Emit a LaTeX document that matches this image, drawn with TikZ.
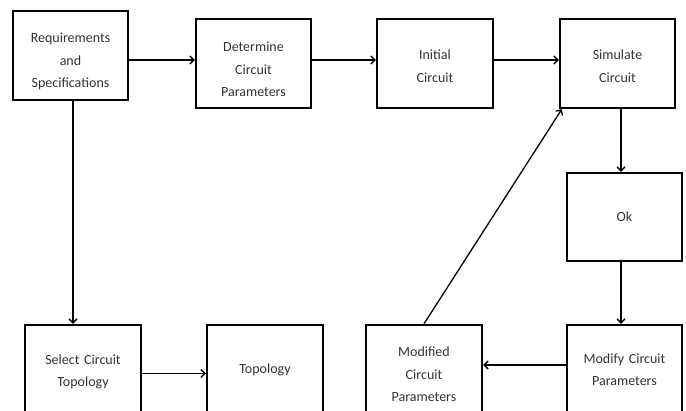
\documentclass[tikz,border=0pt]{standalone}
\usepackage{fontspec}
\setmainfont{Carlito}
\usepackage{xcolor}
\usepackage{tikz}
\usetikzlibrary{arrows.meta}
\tikzstyle{stagebox} = [draw=black, line width=2.4pt, rectangle,
minimum width=115pt, minimum height=89pt, inner sep=0pt,
text width=112pt, align=center, text=black!80,
font=\fontsize{14}{22.5}\selectfont]
\tikzstyle{flow} = [line width=1.3pt, -{Straight Barb[length=4pt,width=8pt]}]
\tikzset{drop/.style={execute at begin node={\rule{0pt}{#1}}}}

\begin{document}
\begin{tikzpicture}[x=1pt, y=-1pt]
        \useasboundingbox (0,0) rectangle (686,410);
        \clip (0,0) rectangle (686,410);
        % top row
        \node [stagebox, drop=22pt] (req) at (70.5,55.5) {Requirements\\and\\Specifications};
        \node [stagebox, drop=22pt] (det) at (253.5,63.5) {Determine\\Circuit\\Parameters};
        \node [stagebox, minimum width=116pt, drop=15pt] (init) at (435,63.5) {Initial\\Circuit};
        \node [stagebox, drop=15pt] (sim) at (617.5,63.5) {Simulate\\Circuit};
        \node [stagebox, minimum height=88pt] (ok) at (624.5,217) {Ok};
        % bottom row
        \node [stagebox, minimum width=116pt, drop=14pt] (select) at (83,369.5) {Select Circuit\\Topology};
        \node [stagebox, minimum width=116pt] (topo) at (265,369.5) {Topology};
        \node [stagebox, minimum width=116pt, drop=20pt] (modified) at (424,369.5) {Modified\\Circuit\\Parameters};
        \node [stagebox] (modify) at (624.5,369.5) {Modify Circuit\\Parameters};
        % connectors
        \draw [flow] ([yshift=-4.5pt]req.east) -- ([yshift=-4.5pt]req.east -| det.west);
        \draw [flow] ([yshift=3.5pt]det.east) -- ([yshift=3.5pt]det.east -| init.west);
        \draw [flow] ([yshift=3.5pt]init.east) -- ([yshift=3.5pt]init.east -| sim.west);
        \draw [flow] ([xshift=3.5pt]sim.south) -- ([xshift=3.5pt]sim.south |- ok.north);
        \draw [flow] ([xshift=-3.5pt]ok.south) -- ([xshift=-3.5pt]ok.south |- modify.north);
        \draw [flow] ([yshift=4.5pt]modify.west) -- ([yshift=4.5pt]modify.west -| modified.east);
        \draw [flow] (modified.north) -- ([xshift=3pt]sim.south west);
        \draw [flow] ([xshift=2.5pt]req.south) -- ([xshift=2.5pt]req.south |- select.north);
        \draw [flow] ([yshift=-4pt]select.east) -- ([yshift=-4pt]select.east -| topo.west);
    \end{tikzpicture}
\end{document}
